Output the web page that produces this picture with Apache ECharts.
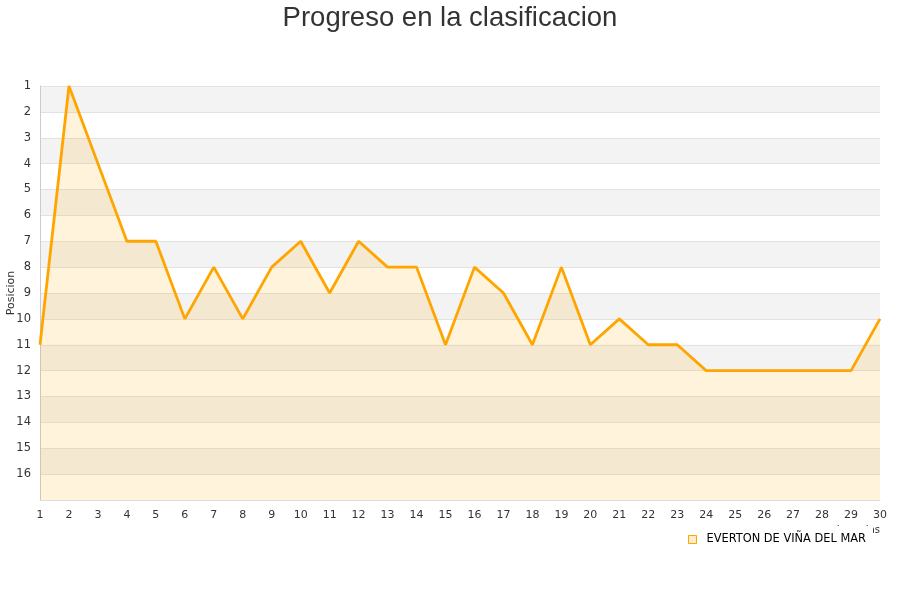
<!DOCTYPE html>
<html>
<head>
<meta charset="utf-8">
<script src="https://cdn.jsdelivr.net/npm/echarts@6/dist/echarts.min.js"></script>
<style>html,body{margin:0;padding:0;background:#fff;}#c{width:900px;height:600px;}</style>
</head>
<body>
<div id="c"></div>
<script>
const jornadas = ['1','2','3','4','5','6','7','8','9','10','11','12','13','14','15','16','17','18','19','20','21','22','23','24','25','26','27','28','29','30'];
const posiciones = [11,1,4,7,7,10,8,10,8,7,9,7,8,8,11,8,9,11,8,11,10,11,11,12,12,12,12,12,12,10];
const teamName = 'EVERTON DE VIÑA DEL MAR';

const chart = echarts.init(document.getElementById('c'));
chart.setOption({
  animation: false,
  backgroundColor: '#fff',
  title: {
    text: 'Progreso en la clasificacion',
    left: 'center', top: -1,
    textStyle: {fontFamily: 'Liberation Sans', fontSize: 27.5, fontWeight: 'normal', color: '#333'}
  },
  grid: {left: 40, right: 20, top: 86, bottom: 100, containLabel: false, outerBoundsMode: 'none'},
  legend: {
    data: [teamName],
    left: 684, top: 526,
    backgroundColor: '#fff',
    padding: [8, 7, 6, 4],
    icon: 'rect', itemWidth: 8, itemHeight: 8, itemGap: 10,
    itemStyle: {color: '#ffeecc', borderColor: '#ffa500', borderWidth: 1},
    textStyle: {fontFamily: 'DejaVu Sans', fontSize: 11.4, color: '#000', padding: [0, 0, 0, 5]}
  },
  xAxis: {
    type: 'category',
    data: jornadas,
    boundaryGap: false,
    name: 'Jornadas',
    nameLocation: 'end',
    nameGap: 0,
    nameTextStyle: {fontFamily: 'DejaVu Sans', fontSize: 10, color: '#333', align: 'right', verticalAlign: 'top', padding: [25, 0, 0, 0]},
    axisLine: {show: true, lineStyle: {color: '#ddd'}},
    axisTick: {show: false},
    axisLabel: {fontFamily: 'DejaVu Sans', fontSize: 11, color: '#333', margin: 10},
    splitLine: {show: false}
  },
  yAxis: {
    type: 'value',
    inverse: true,
    min: 1, max: 17, interval: 1,
    name: 'Posicion',
    nameLocation: 'middle',
    nameGap: 23,
    nameMoveOverlap: false,
    nameTextStyle: {fontFamily: 'DejaVu Sans', fontSize: 11, color: '#333'},
    axisLine: {show: true, lineStyle: {color: '#ccc'}},
    axisTick: {show: false},
    axisLabel: {fontFamily: 'DejaVu Sans', fontSize: 11.5, color: '#333', margin: 9,
      formatter: v => v >= 17 ? '' : String(v)},
    splitLine: {show: true, lineStyle: {color: '#e2e2e2'}},
    splitArea: {show: true, areaStyle: {color: ['#f3f3f3', '#ffffff']}}
  },
  series: [{
    name: teamName,
    type: 'line',
    data: posiciones,
    showSymbol: false,
    symbol: 'none',
    lineStyle: {color: '#ffa500', width: 2.8},
    itemStyle: {color: '#ffa500'},
    areaStyle: {color: 'rgba(255,170,0,0.2)', origin: 'end'}
  }]
});
</script>
</body>
</html>
